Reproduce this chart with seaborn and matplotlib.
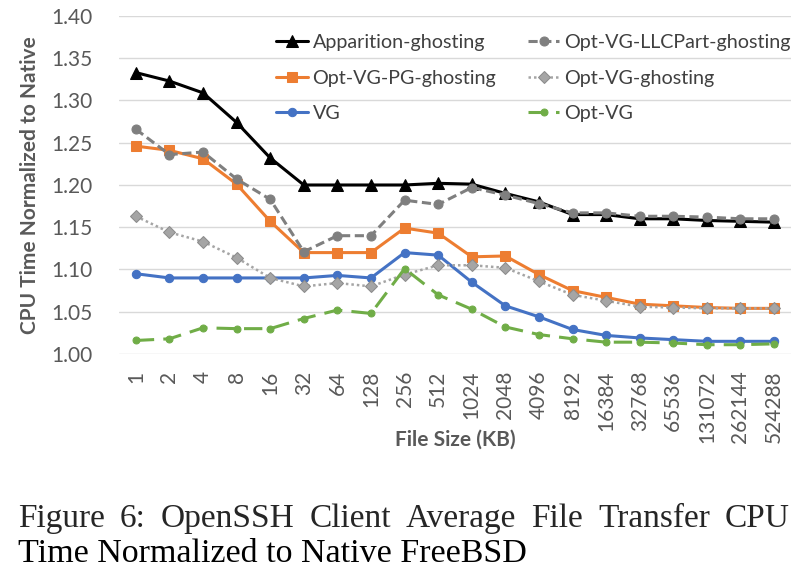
import matplotlib
matplotlib.use("Agg")
import matplotlib.pyplot as plt
import seaborn as sns
import pandas as pd

# x categories (file size in KB)
sizes = ["1", "2", "4", "8", "16", "32", "64", "128", "256", "512", "1024", "2048",
         "4096", "8192", "16384", "32768", "65536", "131072", "262144", "524288"]

apparition = [1.333, 1.323, 1.309, 1.274, 1.232, 1.200, 1.200, 1.200, 1.200, 1.202,
              1.201, 1.190, 1.180, 1.165, 1.165, 1.160, 1.160, 1.158, 1.157, 1.156]
llcpart = [1.266, 1.236, 1.239, 1.207, 1.183, 1.121, 1.140, 1.140, 1.182, 1.177,
           1.197, 1.188, 1.178, 1.167, 1.167, 1.163, 1.163, 1.162, 1.160, 1.160]
pg = [1.246, 1.241, 1.231, 1.201, 1.157, 1.120, 1.120, 1.120, 1.149, 1.143,
      1.115, 1.116, 1.094, 1.075, 1.067, 1.059, 1.057, 1.055, 1.054, 1.054]
optvg_ghost = [1.163, 1.144, 1.133, 1.114, 1.090, 1.080, 1.084, 1.080, 1.094, 1.105,
               1.105, 1.102, 1.086, 1.070, 1.063, 1.056, 1.055, 1.054, 1.054, 1.054]
vg = [1.095, 1.090, 1.090, 1.090, 1.090, 1.090, 1.093, 1.090, 1.120, 1.117,
      1.085, 1.057, 1.044, 1.029, 1.022, 1.019, 1.017, 1.015, 1.015, 1.015]
optvg = [1.016, 1.018, 1.031, 1.030, 1.030, 1.042, 1.052, 1.048, 1.101, 1.070,
         1.053, 1.032, 1.023, 1.018, 1.014, 1.014, 1.013, 1.011, 1.011, 1.012]

caption1 = "Figure 6:  OpenSSH Client Average File Transfer CPU"
caption2 = "Time Normalized to Native FreeBSD"

# order chosen so that 2-column legend reads row by row like the original
series = [
    ("Apparition-ghosting", apparition, dict(color="black", marker="^", ls="-", ms=8, mfc="black", mec="black", lw=2.2)),
    ("Opt-VG-PG-ghosting", pg, dict(color="#ED7D31", marker="s", ls="-", ms=7, mfc="#ED7D31", mec="#ED7D31", lw=2.2)),
    ("VG", vg, dict(color="#4472C4", marker="o", ls="-", ms=6, mfc="#4472C4", mec="#4472C4", lw=2.2)),
    ("Opt-VG-LLCPart-ghosting", llcpart, dict(color="#7F7F7F", marker="o", ls=(0, (3, 1.5)), ms=6.5, mfc="#7F7F7F", mec="#7F7F7F", lw=2.2)),
    ("Opt-VG-ghosting", optvg_ghost, dict(color="#A5A5A5", marker="D", ls=(0, (1, 1.2)), ms=6.5, mfc="#A5A5A5", mec="#8C8C8C", lw=1.8)),
    ("Opt-VG", optvg, dict(color="#70AD47", marker="o", ls=(0, (6, 3)), ms=5, mfc="#70AD47", mec="#70AD47", lw=2.2)),
]

sns.set_theme(style="white")
plt.rcParams['font.family'] = ['Lato', 'DejaVu Sans']

fig = plt.figure(figsize=(8.12, 5.81), dpi=100)
ax = fig.add_axes([0.1466, 0.3907, 0.8274, 0.5818])

x = list(range(len(sizes)))
for name, vals, st in series:
    df = pd.DataFrame({"x": x, "y": vals})
    sns.lineplot(data=df, x="x", y="y", ax=ax, label=name, sort=False, **st)

ax.set_xlim(-0.5, len(sizes) - 0.5)
ax.set_ylim(1.00, 1.40)
ax.set_yticks([1.00, 1.05, 1.10, 1.15, 1.20, 1.25, 1.30, 1.35, 1.40])
ax.set_yticklabels([f"{v:.2f}" for v in ax.get_yticks()], fontsize=15, color="#595959")
ax.set_xticks(x)
ax.set_xticklabels(sizes, rotation=90, fontsize=15, color="#595959")
ax.tick_params(axis="y", length=0, pad=19)
ax.tick_params(axis="x", length=0, pad=12)
ax.grid(axis="y", color="#D9D9D9", lw=1)
for s in ax.spines.values():
    s.set_visible(False)
ax.set_xlabel("File Size (KB)", fontsize=15, fontweight="bold", color="#595959", va="center")
ax.xaxis.set_label_coords(0.5, -0.254)
ax.set_ylabel("CPU Time Normalized to Native", fontsize=15, fontweight="bold", color="#595959", va="center")
ax.yaxis.set_label_coords(-0.132, 0.5)

leg = ax.legend(ncol=2, loc="upper right", bbox_to_anchor=(1.0, 0.947), frameon=False,
                fontsize=14.2, handlelength=1.6, handletextpad=0.25, columnspacing=1.6,
                labelspacing=0.95, borderaxespad=0, borderpad=0)
for t in leg.get_texts():
    t.set_color("#404040")

# caption, first line justified to full width
fig.canvas.draw()
r = fig.canvas.get_renderer()
left, right = 18 / 812, 790 / 812
words = caption1.split()
pieces = [fig.text(0, 0, w, family=["Liberation Serif"], fontsize=24) for w in words]
widths = [p.get_window_extent(r).width / fig.bbox.width for p in pieces]
gap = (right - left - sum(widths)) / (len(words) - 1)
pos = left
for p, w in zip(pieces, widths):
    p.set_position((pos, 1 - 527 / 581))
    p.set_va("baseline")
    pos += w + gap
fig.text(left, 1 - 562 / 581, caption2, family=["Liberation Serif"], fontsize=24.5,
         color="black", va="baseline")

fig.savefig("out.png", dpi=100)
